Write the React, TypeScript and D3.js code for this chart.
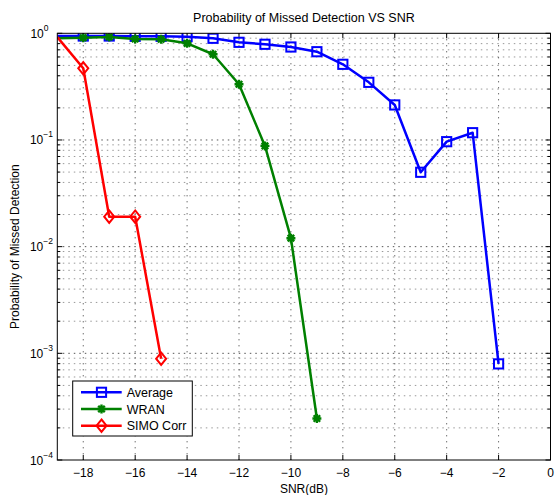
import React from "react";
import * as d3 from "d3";

const snr = [-19, -18, -17, -16, -15, -14, -13, -12, -11, -10, -9, -8, -7, -6, -5, -4, -3, -2];
const averageVals = [0.943, 0.943, 0.943, 0.937, 0.937, 0.93, 0.898, 0.823, 0.789, 0.744, 0.672, 0.512, 0.347, 0.213, 0.0498, 0.0964, 0.117, 0.000796];
const wranSnr = [-19, -18, -17, -16, -15, -14, -13, -12, -11, -10, -9];
const wranVals = [0.898, 0.909, 0.923, 0.884, 0.879, 0.806, 0.636, 0.333, 0.088, 0.012, 0.000245];
const simoSnr = [-19, -18, -17, -16, -15];
const simoVals = [0.92, 0.47, 0.0191, 0.0191, 0.00089];
const xTicks = [-18, -16, -14, -12, -10, -8, -6, -4, -2, 0];
const yDecades = [-4, -3, -2, -1, 0];

const W = 555, H = 495;
const M = { left: 57.3, right: 550.5, top: 33.3, bottom: 460 };
const FONT = "'Liberation Sans', Arial, Helvetica, sans-serif";

type Series = { name: string; xs: number[]; ys: number[]; color: string; marker: string };
const series: Series[] = [
  { name: "Average", xs: snr, ys: averageVals, color: "#0000ff", marker: "square" },
  { name: "WRAN", xs: wranSnr, ys: wranVals, color: "#008000", marker: "star" },
  { name: "SIMO Corr", xs: simoSnr, ys: simoVals, color: "#ff0000", marker: "diamond" },
];

function Marker({ kind, x, y, color }: { kind: string; x: number; y: number; color: string }) {
  if (kind === "square") {
    return <rect x={x - 4.6} y={y - 4.6} width={9.2} height={9.2} fill="none" stroke={color} strokeWidth={2} />;
  }
  if (kind === "diamond") {
    const s = 6.2;
    return <path d={`M${x},${y - s}L${x + 5},${y}L${x},${y + s}L${x - 5},${y}Z`} fill="none" stroke={color} strokeWidth={2} />;
  }
  const r = 4.5, d = r * 0.72;
  return (
    <path
      d={`M${x - r},${y}L${x + r},${y}M${x},${y - r}L${x},${y + r}M${x - d},${y - d}L${x + d},${y + d}M${x - d},${y + d}L${x + d},${y - d}`}
      stroke={color}
      strokeWidth={2.4}
      fill="none"
    />
  );
}

export default function App() {
  const x = d3.scaleLinear().domain([-19, 0]).range([M.left, M.right]);
  const y = d3.scaleLog().domain([1e-4, 1]).range([M.bottom, M.top]);
  const line = d3.line<[number, number]>().x((d) => x(d[0])).y((d) => y(d[1]));

  const minor: number[] = [];
  for (let e = -4; e < 0; e++) for (let k = 2; k <= 9; k++) minor.push(k * Math.pow(10, e));

  const legendX = 72.7, legendY = 381, legendW = 119.6, legendH = 55;
  const rowY = [392.3, 409, 425.7];

  return (
    <svg width={W} height={H} style={{ position: "absolute", left: 0, top: 0, background: "#fff" }} fontFamily={FONT}>
      <defs>
        <clipPath id="plotClip">
          <rect x={M.left} y={M.top} width={M.right - M.left} height={M.bottom - M.top} />
        </clipPath>
      </defs>
      <rect x={0} y={0} width={W} height={H} fill="#fff" />
      {/* grid */}
      <g>
        {minor.map((v, i) => (
          <line key={"mg" + i} x1={M.left} x2={M.right} y1={y(v)} y2={y(v)} stroke="#999" strokeWidth={1} strokeDasharray="1.5,4" />
        ))}
        {yDecades.slice(1, 4).map((e) => (
          <line key={"yg" + e} x1={M.left} x2={M.right} y1={y(Math.pow(10, e))} y2={y(Math.pow(10, e))} stroke="#555" strokeWidth={1} strokeDasharray="1.5,4" />
        ))}
        {xTicks.slice(0, -1).map((t) => (
          <line key={"xg" + t} x1={x(t)} x2={x(t)} y1={M.top} y2={M.bottom} stroke="#333" strokeWidth={1} strokeDasharray="1,5" />
        ))}
      </g>
      {/* ticks */}
      <g stroke="#000" strokeWidth={1}>
        {xTicks.map((t) => (
          <g key={"xt" + t}>
            <line x1={x(t)} x2={x(t)} y1={M.bottom} y2={M.bottom - 5} />
            <line x1={x(t)} x2={x(t)} y1={M.top} y2={M.top + 5} />
          </g>
        ))}
        {yDecades.map((e) => (
          <g key={"yt" + e}>
            <line x1={M.left} x2={M.left + 5} y1={y(Math.pow(10, e))} y2={y(Math.pow(10, e))} />
            <line x1={M.right} x2={M.right - 5} y1={y(Math.pow(10, e))} y2={y(Math.pow(10, e))} />
          </g>
        ))}
        {minor.map((v, i) => (
          <g key={"ymt" + i}>
            <line x1={M.left} x2={M.left + 3} y1={y(v)} y2={y(v)} />
            <line x1={M.right} x2={M.right - 3} y1={y(v)} y2={y(v)} />
          </g>
        ))}
      </g>
      {/* data */}
      <g clipPath="url(#plotClip)">
        {series.map((s) => {
          const pts = s.xs.map((xv, i) => [xv, s.ys[i]] as [number, number]);
          return (
            <g key={s.name}>
              <path d={line(pts) || ""} fill="none" stroke={s.color} strokeWidth={2.5} strokeLinejoin="round" />
              {pts
                .filter((p) => p[0] > -19)
                .map((p, i) => (
                  <Marker key={i} kind={s.marker} x={x(p[0])} y={y(p[1])} color={s.color} />
                ))}
            </g>
          );
        })}
      </g>
      {/* box */}
      <rect x={M.left} y={M.top} width={M.right - M.left} height={M.bottom - M.top} fill="none" stroke="#000" strokeWidth={1} />
      {/* x tick labels */}
      {xTicks.map((t) => (
        <text key={"xl" + t} x={x(t)} y={477} textAnchor="middle" fontSize={12} fill="#000">
          {t < 0 ? "\u2212" + Math.abs(t) : String(t)}
        </text>
      ))}
      {/* y tick labels */}
      {yDecades.map((e) => (
        <text key={"yl" + e} x={e === 0 ? 48.5 : 53} y={y(Math.pow(10, e)) + 4.5} textAnchor="end" fontSize={12} fill="#000">
          10
          <tspan dy={-7} fontSize={8.5}>
            {e < 0 ? "\u2212" + Math.abs(e) : "0"}
          </tspan>
        </text>
      ))}
      {/* title & labels */}
      <text x={(M.left + M.right) / 2} y={22} textAnchor="middle" fontSize={12.5} fill="#000">
        Probability of Missed Detection VS SNR
      </text>
      <text x={(M.left + M.right) / 2} y={493} textAnchor="middle" fontSize={12} fill="#000">
        SNR(dB)
      </text>
      <text transform={`translate(19,${(M.top + M.bottom) / 2}) rotate(-90)`} textAnchor="middle" fontSize={12} fill="#000">
        Probability of Missed Detection
      </text>
      {/* legend */}
      <rect x={legendX} y={legendY} width={legendW} height={legendH} fill="#fff" stroke="#000" strokeWidth={1} />
      {series.map((s, i) => (
        <g key={"lg" + s.name}>
          <line x1={81} x2={121.7} y1={rowY[i]} y2={rowY[i]} stroke={s.color} strokeWidth={2.5} />
          <Marker kind={s.marker} x={101.5} y={rowY[i]} color={s.color} />
          <text x={126.7} y={rowY[i] + 4.5} fontSize={12.5} fill="#000">
            {s.name}
          </text>
        </g>
      ))}
    </svg>
  );
}
